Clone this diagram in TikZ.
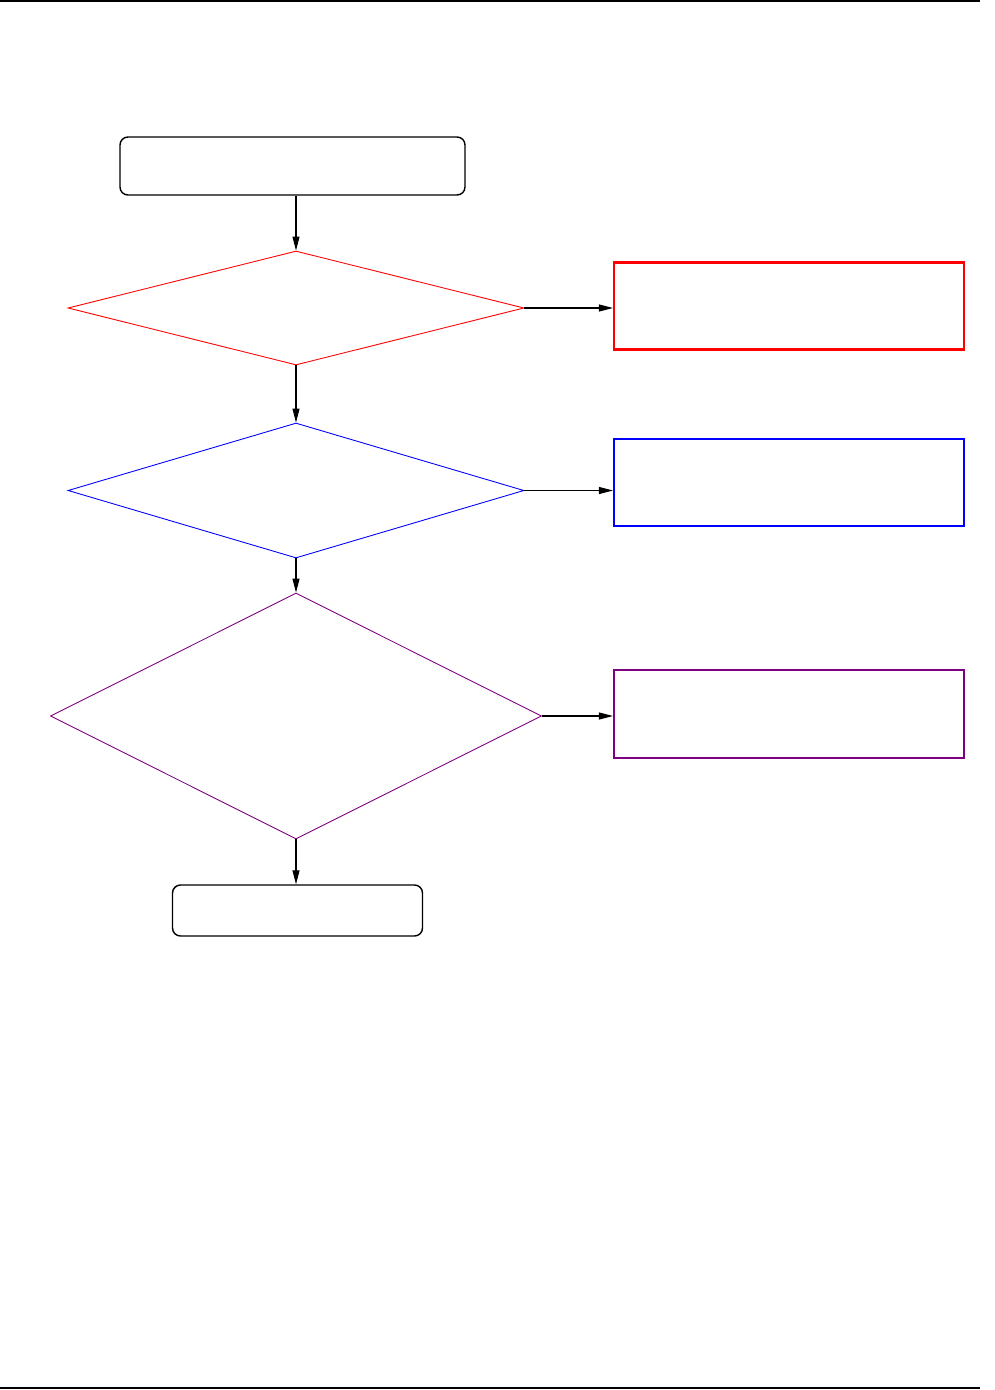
\documentclass[tikz,border=0pt]{standalone}
\usetikzlibrary{positioning,shapes,arrows.meta}
\tikzstyle{term}=[draw, rounded corners=0.16cm, line width=0.8pt, minimum height=1.16cm, minimum width=6.9cm]
\tikzstyle{dec}=[diamond, draw, line width=0.5pt, inner sep=0pt, minimum width=9.12cm, minimum height=2.28cm]
\tikzstyle{res}=[draw, line width=1.2pt, minimum height=1.74cm, minimum width=7cm]
\tikzstyle{flow}=[-{Triangle[length=0.28cm,width=0.14cm]}, line width=0.6pt]
\definecolor{decpurple}{RGB}{128,0,128}
\begin{document}
\begin{tikzpicture}[node distance=2cm]
\useasboundingbox (0,0) rectangle (19.9,-27.8);

% page rules
\draw[line width=1.1pt] (0,-0.02) -- (19.6,-0.02);
\draw[line width=1.1pt] (0,-27.76) -- (19.6,-27.76);

\node[term] at (5.85,-3.32) (start) {};
\node[dec, draw=red] at (5.92,-6.16) (dec1) {};
\node[dec, draw=blue, minimum height=2.7cm, below of = dec1, node distance = 3.65cm] (dec2) {};
\node[dec, draw=decpurple, minimum width=9.82cm, minimum height=4.92cm, below of = dec2, node distance = 4.51cm] (dec3) {};
\node[term, minimum width=5cm, minimum height=1.02cm, below of = dec3, node distance = 3.89cm, xshift=0.03cm] (stop) {};

\node[res, draw=red, right of = dec1, node distance = 9.86cm, yshift=0.04cm] (res1) {};
\node[res, draw=blue, right of = dec2, node distance = 9.86cm, yshift=0.16cm] (res2) {};
\node[res, draw=decpurple, minimum height=1.76cm, right of = dec3, node distance = 9.86cm, yshift=0.04cm] (res3) {};

\draw[flow] (start.south -| dec1.north) -- (dec1.north);
\draw[flow] (dec1) -- (dec2);
\draw[flow] (dec2) -- (dec3);
\draw[flow] (dec3.south) -- (stop.north -| dec3.south);

\draw[flow] (dec1.east) -- (dec1.east -| res1.west);
\draw[flow] (dec2.east) -- (dec2.east -| res2.west);
\draw[flow] (dec3.east) -- (dec3.east -| res3.west);
\end{tikzpicture}
\end{document}
